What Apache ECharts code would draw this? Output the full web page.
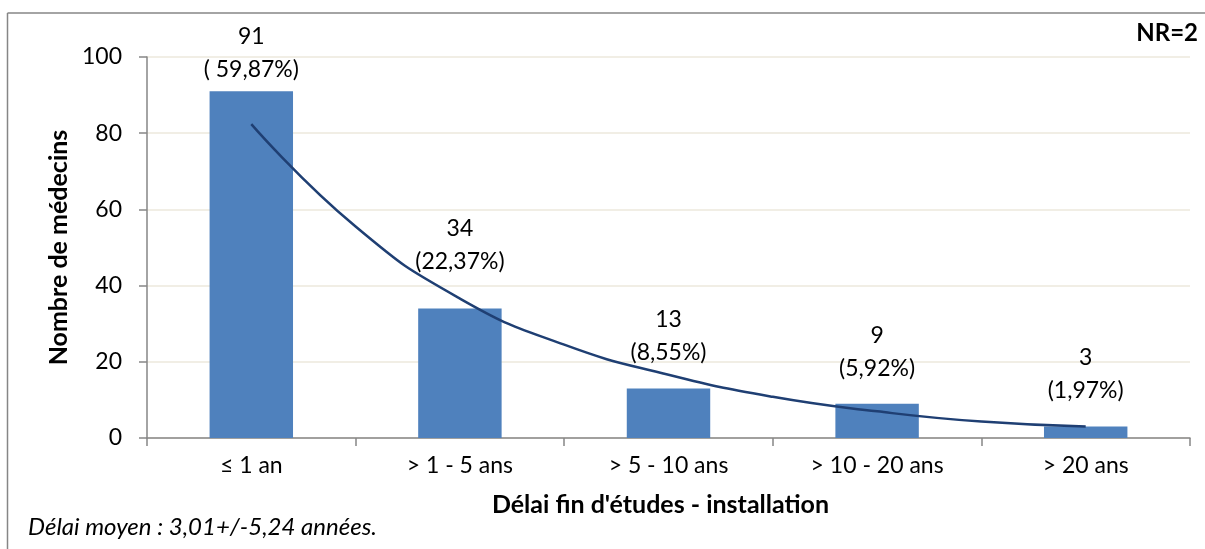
<!DOCTYPE html>
<html>
<head>
<meta charset="utf-8">
<script src="https://cdn.jsdelivr.net/npm/echarts@6/dist/echarts.min.js"></script>
<style>
html,body{margin:0;padding:0;background:#fff;}
#chart{width:1205px;height:549px;}
</style>
</head>
<body>
<div id="chart"></div>
<script>
const categories = ['≤ 1 an', '> 1 - 5 ans', '> 5 - 10 ans', '> 10 - 20 ans', '> 20 ans'];
const counts = [91, 34, 13, 9, 3];
const percentLabels = ['( 59,87%)', '(22,37%)', '(8,55%)', '(5,92%)', '(1,97%)'];
// trend curve (category position -> value)
const trendX = [1, 1.5, 2, 2.5, 3, 3.5, 4, 4.5, 5];
const trendY = [82.4, 55.5, 36.6, 24.5, 16.6, 10.8, 7.0, 4.3, 3.0];
const yAxisTitle = 'Nombre de médecins';
const xAxisTitle = "Délai fin d'études - installation";
const noteText = 'NR=2';
const footerText = 'Délai moyen : 3,01+/-5,24 années.';

const FONT = 'Lato';
const chart = echarts.init(document.getElementById('chart'), null, {renderer: 'canvas'});

const labelDistances = counts.map((v, i) => i === 0 ? 5 : (i === 1 ? 30 : 19));
const barData = counts.map((v, i) => ({
  value: v,
  label: {distance: labelDistances[i]}
}));

chart.setOption({
  animation: false,
  backgroundColor: '#ffffff',
  textStyle: {fontFamily: FONT},
  grid: {left: 147, right: 15, top: 57, bottom: 111, containLabel: false},
  xAxis: [{
    type: 'category',
    data: categories,
    boundaryGap: true,
    axisLine: {show: true, lineStyle: {color: '#868686', width: 1.5}},
    axisTick: {show: true, length: 8, alignWithLabel: false, lineStyle: {color: '#868686', width: 1.5}},
    axisLabel: {color: '#000', fontFamily: FONT, fontSize: 23, margin: 16},
    name: xAxisTitle,
    nameLocation: 'middle',
    nameGap: 54,
    nameTextStyle: {color: '#000', fontFamily: FONT, fontSize: 25, fontWeight: 'bold', padding: [0, 16, 0, 0]}
  }, {
    type: 'value',
    min: 0.5,
    max: 5.5,
    show: false
  }],
  yAxis: {
    type: 'value',
    min: 0,
    max: 100,
    interval: 20,
    axisLine: {show: true, lineStyle: {color: '#868686', width: 1.5}},
    axisTick: {show: true, length: 8, lineStyle: {color: '#868686', width: 1.5}},
    axisLabel: {color: '#000', fontFamily: FONT, fontSize: 23, margin: 25},
    splitLine: {show: true, lineStyle: {color: '#ECE9DD', width: 1.5}},
    name: yAxisTitle,
    nameLocation: 'middle',
    nameGap: 76,
    nameTextStyle: {color: '#000', fontFamily: FONT, fontSize: 25, fontWeight: 'bold'}
  },
  series: [{
    type: 'bar',
    xAxisIndex: 0,
    data: barData,
    barWidth: '40%',
    itemStyle: {color: '#4F81BD'},
    label: {
      show: true,
      position: 'top',
      color: '#000',
      fontFamily: FONT,
      fontSize: 23,
      lineHeight: 33,
      align: 'center',
      formatter: p => p.value + '\n' + percentLabels[p.dataIndex]
    },
    z: 2
  }, {
    type: 'line',
    xAxisIndex: 1,
    data: trendX.map((x, i) => [x, trendY[i]]),
    smooth: true,
    symbol: 'none',
    lineStyle: {color: '#1F3F73', width: 2.5},
    z: 3
  }],
  graphic: [
    {type: 'line', shape: {x1: 7.5, y1: 13, x2: 7.5, y2: 549}, style: {stroke: '#868686', lineWidth: 1.5}, silent: true},
    {type: 'line', shape: {x1: 7.5, y1: 13, x2: 1205, y2: 13}, style: {stroke: '#868686', lineWidth: 1.5}, silent: true},
    {type: 'text', right: 7, top: 21, style: {text: noteText, fill: '#000', font: 'bold 24px ' + FONT}},
    {type: 'text', left: 28, top: 515, style: {text: footerText, fill: '#000', font: 'italic 24px ' + FONT}}
  ]
});
</script>
</body>
</html>
